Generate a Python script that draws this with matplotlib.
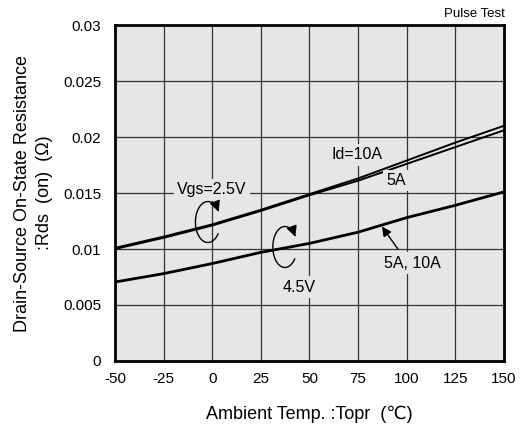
import numpy as np
import matplotlib
matplotlib.use("Agg")
import matplotlib.pyplot as plt
from matplotlib.patches import FancyArrowPatch
from matplotlib.path import Path

plt.rcParams['font.family'] = ['Liberation Sans', 'DejaVu Sans']

temps = [-50, -25, 0, 25, 50, 75, 100, 125, 150]
rds_25v_10a = [0.0101, 0.0111, 0.0122, 0.0135, 0.0149, 0.0163, 0.0179, 0.0195, 0.0210]
rds_25v_5a = [0.0100, 0.0110, 0.0121, 0.0134, 0.0148, 0.0161, 0.0176, 0.0191, 0.0206]
rds_45v = [0.00705, 0.0078, 0.0087, 0.0097, 0.0105, 0.0115, 0.0128, 0.0139, 0.0151]

xticks = [-50, -25, 0, 25, 50, 75, 100, 125, 150]
yticks = [0, 0.005, 0.01, 0.015, 0.02, 0.025, 0.03]
ytick_labels = ['0', '0.005', '0.01', '0.015', '0.02', '0.025', '0.03']

fig = plt.figure(figsize=(5.2, 4.32), dpi=100)
ax = fig.add_axes([0.221, 0.1644, 0.748, 0.7776])
ax.set_facecolor('#e6e6e6')

ax.set_xlim(-50, 150)
ax.set_ylim(0, 0.03)
ax.set_xticks(xticks)
ax.set_xticklabels([str(t) for t in xticks])
ax.set_yticks(yticks)
ax.set_yticklabels(ytick_labels)
ax.tick_params(axis='both', length=0, labelsize=11)
ax.tick_params(axis='y', pad=10)
ax.tick_params(axis='x', pad=8)
ax.grid(True, color='#333333', linewidth=0.9)
ax.set_axisbelow(True)
for s in ax.spines.values():
    s.set_linewidth(2.0)
    s.set_color('black')

ax.plot(temps, rds_25v_10a, color='black', linewidth=1.4, zorder=3)
ax.plot(temps, rds_25v_5a, color='black', linewidth=1.4, zorder=3)
ax.plot(temps, rds_45v, color='black', linewidth=2.0, zorder=3)

ax.set_xlabel('Ambient Temp. :Topr  (\u2103)', fontsize=13, labelpad=14)
ax.set_ylabel('Drain-Source On-State Resistance\n:Rds  (on)  (\u03a9)', fontsize=13,
              labelpad=7, linespacing=1.4)

fig.text(0.971, 0.968, 'Pulse Test', ha='right', va='center', fontsize=9.5)

box = dict(boxstyle='square,pad=0.2', facecolor='#e6e6e6', edgecolor='none')
fs = 11.5
ax.text(0, 0.01527, 'Vgs=2.5V', ha='center', va='center', fontsize=fs, bbox=box, zorder=4)
ax.text(74.5, 0.0184, 'Id=10A', ha='center', va='center', fontsize=fs, bbox=box, zorder=4)
ax.text(94.5, 0.0161, '5A', ha='center', va='center', fontsize=fs, bbox=box, zorder=4)
ax.text(103, 0.00875, '5A, 10A', ha='center', va='center', fontsize=fs, bbox=box, zorder=4)
ax.text(44.6, 0.0066, '4.5V', ha='center', va='center', fontsize=fs, bbox=box, zorder=4)

ax.add_patch(FancyArrowPatch((95.5, 0.0100), (87.3, 0.0120), arrowstyle='-|>',
                             mutation_scale=14, color='black', linewidth=1.0,
                             shrinkA=0, shrinkB=0, zorder=5))

def loop(cx, cy, a, b):
    t = np.radians(np.linspace(-35, -330, 80))
    verts = np.column_stack([cx + a * np.cos(t), cy + b * np.sin(t)])
    p = FancyArrowPatch(path=Path(verts), arrowstyle='-|>', mutation_scale=16,
                        color='black', linewidth=1.0, shrinkA=0, shrinkB=0, zorder=5)
    ax.add_patch(p)

loop(-2.2, 0.01241, 6.4, 0.00183)
loop(37.4, 0.01018, 6.2, 0.00183)

fig.savefig('out.png', dpi=100)
